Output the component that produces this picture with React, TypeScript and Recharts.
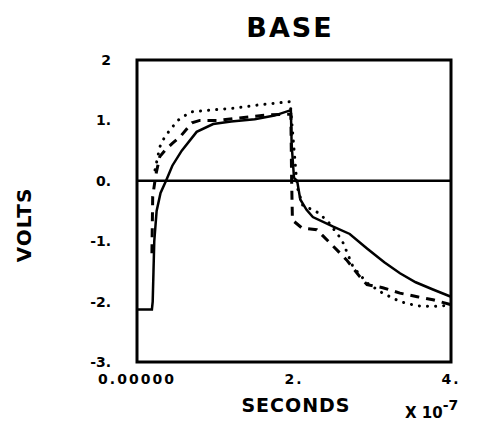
import { LineChart, Line, XAxis, YAxis, ReferenceLine, ReferenceArea } from "recharts";

// x in units of 1e-7 s, y in volts
const solidX = [0, 0.19, 0.2, 0.21, 0.22, 0.25, 0.3, 0.37, 0.45, 0.57, 0.76, 0.97, 1.2, 1.5, 1.75, 1.96, 1.97, 2.0, 2.04, 2.08, 2.16, 2.24, 2.5, 2.71, 2.93, 3.15, 3.35, 3.55, 3.77, 4.0];
const solidY = [-2.13, -2.13, -2.0, -1.5, -1.0, -0.5, -0.2, 0.0, 0.25, 0.5, 0.81, 0.94, 0.98, 1.02, 1.08, 1.17, 0.6, 0.05, 0.0, -0.31, -0.48, -0.6, -0.76, -0.88, -1.12, -1.35, -1.53, -1.68, -1.8, -1.92];

const dashX = [0.19, 0.2, 0.24, 0.29, 0.36, 0.45, 0.55, 0.7, 0.8, 1.02, 1.3, 1.65, 1.85, 1.96, 1.97, 1.98, 2.1, 2.29, 2.46, 2.67, 2.84, 2.93, 3.13, 3.35, 3.57, 3.77, 4.0];
const dashY = [-1.2, -0.26, 0.1, 0.4, 0.51, 0.62, 0.73, 0.96, 1.0, 1.0, 1.04, 1.09, 1.1, 1.1, 0.0, -0.65, -0.78, -0.81, -1.03, -1.31, -1.59, -1.72, -1.77, -1.86, -1.92, -1.97, -2.05];

const dotX = [0.23, 0.29, 0.35, 0.42, 0.52, 0.68, 0.93, 1.22, 1.57, 1.95, 2.04, 2.11, 2.31, 2.43, 2.61, 2.75, 2.93, 3.13, 3.35, 3.57, 3.77, 4.0];
const dotY = [0.18, 0.56, 0.72, 0.84, 1.0, 1.14, 1.17, 1.2, 1.26, 1.31, -0.1, -0.4, -0.53, -0.67, -0.98, -1.42, -1.69, -1.86, -2.0, -2.07, -2.08, -2.06];

const xTicks = [0, 2, 4];
const xTickLabels = ["0.00000", "2.", "4."];
const yTicks = [-3, -2, -1, 0, 1, 2];
const yTickLabels = ["-3.", "-2.", "-1.", "0.", "1.", "2"];

const toPoints = (xs: number[], ys: number[]) => xs.map((x, i) => ({ x, y: ys[i] }));

const font = "'DejaVu Sans', sans-serif";

export default function App() {
  const solid = toPoints(solidX, solidY);
  const dashed = toPoints(dashX, dashY);
  const dotted = toPoints(dotX, dotY);

  return (
    <div style={{ position: "absolute", left: 0, top: 0, width: 485, height: 427, background: "#fff", fontFamily: font }}>
      <LineChart width={485} height={427} margin={{ top: 60, right: 34, bottom: 40, left: 97 }}>
        <XAxis
          type="number"
          dataKey="x"
          domain={[0, 4]}
          ticks={xTicks}
          tickFormatter={(v: number) => xTickLabels[xTicks.indexOf(v)]}
          axisLine={false}
          tickLine={false}
          height={25}
          tick={{ fill: "#000", fontSize: 14, fontWeight: 700, fontFamily: font, letterSpacing: 2 }}
          tickMargin={6}
        />
        <YAxis
          type="number"
          dataKey="y"
          domain={[-3, 2]}
          ticks={yTicks}
          tickFormatter={(v: number) => yTickLabels[yTicks.indexOf(v)]}
          axisLine={false}
          tickLine={false}
          width={40}
          tick={{ fill: "#000", fontSize: 14, fontWeight: 700, fontFamily: font }}
          tickMargin={20}
        />
        <ReferenceArea x1={0} x2={4} y1={-3} y2={2} fill="none" stroke="#000" strokeWidth={3} ifOverflow="visible" />
        <ReferenceLine y={0} stroke="#000" strokeWidth={2.5} />
        <Line data={dotted} dataKey="y" type="linear" stroke="#000" strokeWidth={3} strokeDasharray="0.1 8" strokeLinecap="round" dot={false} isAnimationActive={false} />
        <Line data={dashed} dataKey="y" type="linear" stroke="#000" strokeWidth={3} strokeDasharray="9 7" dot={false} isAnimationActive={false} />
        <Line data={solid} dataKey="y" type="linear" stroke="#000" strokeWidth={2.5} dot={false} isAnimationActive={false} />
      </LineChart>
      <div style={{ position: "absolute", left: 230, top: 12, width: 120, textAlign: "center", fontSize: 27, fontWeight: 700, letterSpacing: 2 }}>BASE</div>
      <div
        style={{
          position: "absolute",
          left: 24,
          top: 213,
          width: 80,
          marginLeft: -40,
          textAlign: "center",
          fontSize: 20,
          fontWeight: 700,
          transform: "rotate(-90deg)",
          letterSpacing: 1,
        }}
      >
        VOLTS
      </div>
      <div style={{ position: "absolute", left: 216, top: 394, width: 160, textAlign: "center", fontSize: 19, fontWeight: 700, letterSpacing: 1 }}>SECONDS</div>
      <div style={{ position: "absolute", left: 405, top: 397, fontSize: 15, fontWeight: 700, whiteSpace: "nowrap" }}>
        X 10<sup style={{ fontSize: 14, verticalAlign: "8px" }}>-7</sup>
      </div>
    </div>
  );
}
